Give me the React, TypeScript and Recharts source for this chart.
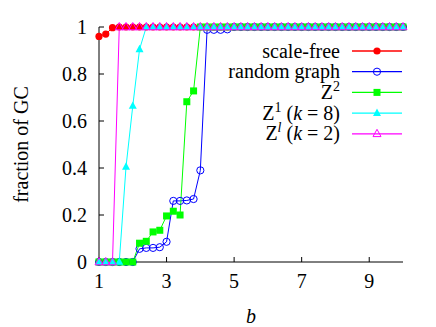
import React from 'react';
import { LineChart, Line, XAxis, YAxis, Legend } from 'recharts';

const bValues = [
  1, 1.2, 1.4, 1.6, 1.8, 2, 2.2, 2.4, 2.6, 2.8,
  3, 3.2, 3.4, 3.6, 3.8, 4, 4.2, 4.4, 4.6, 4.8,
  5, 5.2, 5.4, 5.6, 5.8, 6, 6.2, 6.4, 6.6, 6.8,
  7, 7.2, 7.4, 7.6, 7.8, 8, 8.2, 8.4, 8.6, 8.8,
  9, 9.2, 9.4, 9.6, 9.8, 10,
];

const scaleFree = [
  0.96, 0.97, 0.997, 1, 1, 1, 1, 1, 1, 1,
  1, 1, 1, 1, 1, 1, 1, 1, 1, 1,
  1, 1, 1, 1, 1, 1, 1, 1, 1, 1,
  1, 1, 1, 1, 1, 1, 1, 1, 1, 1,
  1, 1, 1, 1, 1, 1,
];

const randomGraph = [
  0, 0, 0, 0, 0, 0, 0.056, 0.06, 0.06, 0.063,
  0.086, 0.26, 0.26, 0.262, 0.268, 0.39, 0.988, 0.988, 0.988, 0.99,
  1, 1, 1, 1, 1, 1, 1, 1, 1, 1,
  1, 1, 1, 1, 1, 1, 1, 1, 1, 1,
  1, 1, 1, 1, 1, 1,
];

const zSquared = [
  0, 0, 0, 0, 0, 0, 0.08, 0.088, 0.128, 0.135,
  0.196, 0.216, 0.2, 0.682, 0.728, 1, 1, 1, 1, 1,
  1, 1, 1, 1, 1, 1, 1, 1, 1, 1,
  1, 1, 1, 1, 1, 1, 1, 1, 1, 1,
  1, 1, 1, 1, 1, 1,
];

const zOneK8 = [
  0, 0, 0, 0, 0.405, 0.664, 0.905, 1, 1, 1,
  1, 1, 1, 1, 1, 1, 1, 1, 1, 1,
  1, 1, 1, 1, 1, 1, 1, 1, 1, 1,
  1, 1, 1, 1, 1, 1, 1, 1, 1, 1,
  1, 1, 1, 1, 1, 1,
];

const zLK2 = [
  0, 0, 0, 1, 1, 1, 1, 1, 1, 1,
  1, 1, 1, 1, 1, 1, 1, 1, 1, 1,
  1, 1, 1, 1, 1, 1, 1, 1, 1, 1,
  1, 1, 1, 1, 1, 1, 1, 1, 1, 1,
  1, 1, 1, 1, 1, 1,
];

const xTicks = [1, 3, 5, 7, 9];
const yTicks = [0, 0.2, 0.4, 0.6, 0.8, 1];

const chartData = bValues.map((b, i) => ({
  b,
  scaleFree: scaleFree[i],
  randomGraph: randomGraph[i],
  zSquared: zSquared[i],
  zOneK8: zOneK8[i],
  zLK2: zLK2[i],
}));

const FONT = 'Liberation Serif';
const fontStyle = { fontFamily: FONT };

type Shape = 'circle' | 'openCircle' | 'square' | 'triangle' | 'openTriangle';

const Marker = ({ shape, cx, cy, color }: { shape: Shape; cx: number; cy: number; color: string }) => {
  const tri = `${cx},${cy - 4.5} ${cx - 4},${cy + 2.8} ${cx + 4},${cy + 2.8}`;
  switch (shape) {
    case 'circle':
      return <circle cx={cx} cy={cy} r={3.6} fill={color} />;
    case 'openCircle':
      return <circle cx={cx} cy={cy} r={3.6} fill="none" stroke={color} strokeWidth={1} />;
    case 'square':
      return <rect x={cx - 3.5} y={cy - 3.5} width={7} height={7} fill={color} />;
    case 'triangle':
      return <polygon points={tri} fill={color} />;
    default:
      return <polygon points={tri} fill="none" stroke={color} strokeWidth={1} />;
  }
};

const series: { key: string; color: string; shape: Shape; label: React.ReactNode }[] = [
  { key: 'scaleFree', color: '#ff0000', shape: 'circle', label: 'scale-free' },
  { key: 'randomGraph', color: '#0000ff', shape: 'openCircle', label: 'random graph' },
  {
    key: 'zSquared',
    color: '#00ff00',
    shape: 'square',
    label: (
      <>
        Z<tspan dy={-8} fontSize={14}>2</tspan>
      </>
    ),
  },
  {
    key: 'zOneK8',
    color: '#00ffff',
    shape: 'triangle',
    label: (
      <>
        Z<tspan dy={-8} fontSize={14}>1</tspan>
        <tspan dy={8} dx={5}>(</tspan>
        <tspan fontStyle="italic">k</tspan> = 8)
      </>
    ),
  },
  {
    key: 'zLK2',
    color: '#ff00ff',
    shape: 'openTriangle',
    label: (
      <>
        Z<tspan dy={-8} fontSize={14} fontStyle="italic">l</tspan>
        <tspan dy={8} dx={5}>(</tspan>
        <tspan fontStyle="italic">k</tspan> = 2)
      </>
    ),
  },
];

const LegendBox = () => (
  <svg width={436} height={160} style={{ display: 'block', overflow: 'visible' }}>
    {series.map((s, i) => {
      const y = 51 + i * 20.7;
      return (
        <g key={s.key}>
          <text x={340} y={y + 6.6} textAnchor="end" fontFamily={FONT} style={fontStyle} fontSize={20} fill="#000">
            {s.label}
          </text>
          <line x1={352} x2={402} y1={y} y2={y} stroke={s.color} strokeWidth={1.3} />
          <Marker shape={s.shape} cx={377} cy={y} color={s.color} />
        </g>
      );
    })}
  </svg>
);

const YTitle = (props: any) => {
  const vb = props.viewBox || { x: 0, y: 27, width: 99, height: 235 };
  const x = vb.x + 21;
  const y = vb.y + vb.height / 2;
  return (
    <text
      x={x}
      y={y}
      transform={`rotate(-90, ${x}, ${y})`}
      textAnchor="middle"
      dominantBaseline="central"
      fontFamily={FONT}
      style={fontStyle}
      fontSize={20}
      fill="#000"
    >
      fraction of GC
    </text>
  );
};

export default function App() {
  return (
    <div
      style={{
        position: 'absolute',
        left: 0,
        top: 0,
        width: 436,
        height: 327,
        background: '#fff',
        fontFamily: FONT,
      }}
    >
      <LineChart
        width={436}
        height={327}
        data={chartData}
        margin={{ top: 27, right: 33, bottom: 0, left: 0 }}
        style={fontStyle}
      >
        <XAxis
          dataKey="b"
          type="number"
          domain={[1, 10]}
          ticks={xTicks}
          height={65}
          axisLine={{ stroke: '#000' }}
          tickLine={{ stroke: '#000' }}
          tickSize={-5}
          tickMargin={17}
          tick={{ fill: '#000', fontSize: 20, fontFamily: FONT, style: fontStyle }}
          label={{
            value: 'b',
            position: 'insideBottom',
            offset: 4,
            fill: '#000',
            fontSize: 20,
            fontFamily: FONT,
            fontStyle: 'italic',
            style: fontStyle,
          }}
        />
        <YAxis
          type="number"
          domain={[0, 1]}
          ticks={yTicks}
          width={99}
          axisLine={{ stroke: '#000' }}
          tickLine={{ stroke: '#000' }}
          tickSize={-5}
          tickMargin={17}
          tick={{ fill: '#000', fontSize: 20, fontFamily: FONT, style: fontStyle }}
          tickFormatter={(v: number) => String(+v.toFixed(1))}
          label={{ content: YTitle }}
        />
        <Legend
          layout="horizontal"
          verticalAlign="middle"
          align="center"
          content={() => <LegendBox />}
          wrapperStyle={{ position: 'absolute', left: 0, top: 0, width: 436, height: 160, pointerEvents: 'none' }}
        />
        {series.map((s) => (
          <Line
            key={s.key}
            dataKey={s.key}
            type="linear"
            stroke={s.color}
            strokeWidth={1}
            isAnimationActive={false}
            dot={(p: any) => (
              <Marker key={`${s.key}-${p.index}`} shape={s.shape} cx={p.cx} cy={p.cy} color={s.color} />
            )}
            activeDot={false}
          />
        ))}
      </LineChart>
    </div>
  );
}
